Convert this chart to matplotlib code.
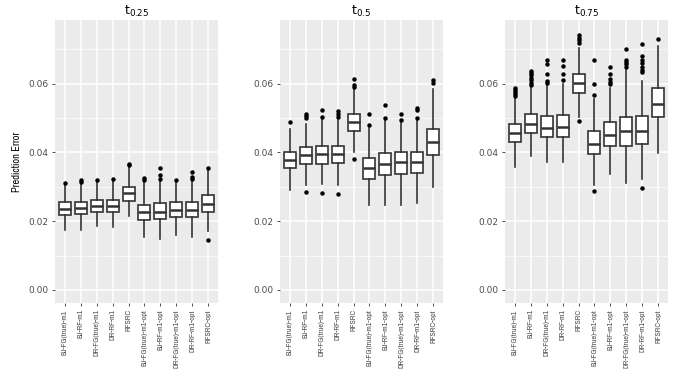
import matplotlib
matplotlib.use("Agg")
import matplotlib.pyplot as plt
import numpy as np

# categories
methods = ["BJ-FG(true)-m1", "BJ-RF-m1", "DR-FG(true)-m1", "DR-RF-m1", "RFSRC",
           "BJ-FG(true)-m1-opt", "BJ-RF-m1-opt", "DR-FG(true)-m1-opt",
           "DR-RF-m1-opt", "RFSRC-opt"]
titles = [r"$\mathregular{t_{0.25}}$", r"$\mathregular{t_{0.5}}$", r"$\mathregular{t_{0.75}}$"]

# t0.25 box stats
q1_25 = [0.0218, 0.0220, 0.0227, 0.0228, 0.0260, 0.0204, 0.0205, 0.0213, 0.0212, 0.0227]
med_25 = [0.0235, 0.0237, 0.0244, 0.0244, 0.0282, 0.0226, 0.0227, 0.0232, 0.0232, 0.0250]
q3_25 = [0.0255, 0.0256, 0.0261, 0.0261, 0.0300, 0.0247, 0.0252, 0.0256, 0.0256, 0.0275]
lo_25 = [0.0173, 0.0175, 0.0185, 0.0183, 0.0214, 0.0153, 0.0148, 0.0159, 0.0154, 0.0170]
hi_25 = [0.0306, 0.0309, 0.0315, 0.0316, 0.0357, 0.0316, 0.0319, 0.0315, 0.0316, 0.0350]
out_25 = [[0.0311], [0.0313, 0.0319], [0.0320], [0.0322], [0.0363, 0.0367],
          [0.0321, 0.0325], [0.0322, 0.0335, 0.0355], [0.0319],
          [0.0322, 0.0327, 0.0342], [0.0355, 0.0144]]

# t0.5 box stats
q1_5 = [0.0356, 0.0366, 0.0367, 0.0368, 0.0462, 0.0324, 0.0335, 0.0338, 0.0339, 0.0392]
med_5 = [0.0379, 0.0391, 0.0394, 0.0396, 0.0489, 0.0354, 0.0365, 0.0371, 0.0371, 0.0430]
q3_5 = [0.0402, 0.0416, 0.0419, 0.0418, 0.0513, 0.0385, 0.0397, 0.0401, 0.0401, 0.0469]
lo_5 = [0.0292, 0.0306, 0.0309, 0.0305, 0.0401, 0.0246, 0.0246, 0.0246, 0.0253, 0.0300]
hi_5 = [0.0467, 0.0484, 0.0493, 0.0493, 0.0583, 0.0472, 0.0493, 0.0486, 0.0493, 0.0583]
out_5 = [[0.0489], [0.0500, 0.0506, 0.0512, 0.0284], [0.0502, 0.0523, 0.0282],
         [0.0503, 0.0512, 0.0521, 0.0278], [0.0590, 0.0595, 0.0612, 0.0382],
         [0.0479, 0.0512], [0.0501, 0.0539], [0.0495, 0.0512],
         [0.0500, 0.0523, 0.0529], [0.0602, 0.0610]]

# t0.75 box stats
q1_75 = [0.0430, 0.0455, 0.0445, 0.0446, 0.0574, 0.0394, 0.0418, 0.0420, 0.0424, 0.0503]
med_75 = [0.0457, 0.0483, 0.0471, 0.0474, 0.0602, 0.0424, 0.0450, 0.0462, 0.0461, 0.0542]
q3_75 = [0.0482, 0.0511, 0.0506, 0.0508, 0.0629, 0.0461, 0.0488, 0.0504, 0.0505, 0.0586]
lo_75 = [0.0358, 0.0389, 0.0372, 0.0373, 0.0503, 0.0305, 0.0336, 0.0311, 0.0324, 0.0398]
hi_75 = [0.0561, 0.0586, 0.0598, 0.0600, 0.0705, 0.0556, 0.0587, 0.0639, 0.0607, 0.0709]
out_75 = [[0.0563, 0.0571, 0.0576, 0.0581, 0.0586],
          [0.0597, 0.0602, 0.0610, 0.0617, 0.0624, 0.0631, 0.0637],
          [0.0602, 0.0608, 0.0629, 0.0656, 0.0668],
          [0.0610, 0.0629, 0.0651, 0.0668],
          [0.0718, 0.0726, 0.0734, 0.0741, 0.0491],
          [0.0566, 0.0600, 0.0668, 0.0288],
          [0.0600, 0.0605, 0.0612, 0.0627, 0.0647],
          [0.0648, 0.0656, 0.0663, 0.0670, 0.0702],
          [0.0634, 0.0639, 0.0648, 0.0660, 0.0670, 0.0680, 0.0714, 0.0295],
          [0.0730]]

panels = [(q1_25, med_25, q3_25, lo_25, hi_25, out_25),
          (q1_5, med_5, q3_5, lo_5, hi_5, out_5),
          (q1_75, med_75, q3_75, lo_75, hi_75, out_75)]

narrow = ["Archivo Narrow", "Liberation Sans Narrow", "DejaVu Sans"]
edge = "#333333"

fig = plt.figure(figsize=(6.76, 3.8), dpi=100)
lefts = [55, 280, 505]

for k, (q1, med, q3, lo, hi, out) in enumerate(panels):
    ax = fig.add_axes([lefts[k] / 676, 1 - 303 / 380, 163 / 676, 283 / 380])
    ax.set_facecolor("#EBEBEB")
    stats = []
    for i in range(len(methods)):
        stats.append(dict(q1=q1[i], med=med[i], q3=q3[i], whislo=lo[i],
                          whishi=hi[i], fliers=out[i], label=methods[i]))
    pos = np.arange(1, len(methods) + 1)
    ax.bxp(stats, positions=pos, widths=0.75, patch_artist=True, showcaps=False,
           boxprops=dict(facecolor="white", edgecolor=edge, linewidth=1.2),
           whiskerprops=dict(color=edge, linewidth=1.2),
           medianprops=dict(color=edge, linewidth=1.8),
           flierprops=dict(marker="o", markersize=2.2, markerfacecolor="black",
                           markeredgecolor="black", linestyle="none"))
    ax.set_xlim(0.4, 10.6)
    ax.set_ylim(-0.0038, 0.0785)
    ax.set_yticks([0, 0.02, 0.04, 0.06])
    ax.set_yticklabels(["0.00", "0.02", "0.04", "0.06"])
    ax.set_yticks([0.01, 0.03, 0.05, 0.07], minor=True)
    ax.set_xticks(pos)
    ax.set_xticklabels(methods, rotation=90, family=narrow, fontsize=5.7, color="#4D4D4D")
    ax.grid(which="major", color="white", linewidth=1.1)
    ax.grid(which="minor", axis="y", color="white", linewidth=0.5)
    ax.set_axisbelow(True)
    for s in ax.spines.values():
        s.set_visible(False)
    ax.tick_params(axis="both", which="major", length=2.5, width=0.6, color="#333333",
                   pad=2)
    ax.tick_params(axis="y", labelsize=6.5, labelcolor="#4D4D4D")
    ax.tick_params(which="minor", length=0)
    ax.set_title(titles[k], fontsize=9, pad=4)
    if k == 0:
        ax.set_ylabel("Prediction Error", family=narrow, fontsize=7.5, labelpad=5)

fig.savefig("out.png", dpi=100)
